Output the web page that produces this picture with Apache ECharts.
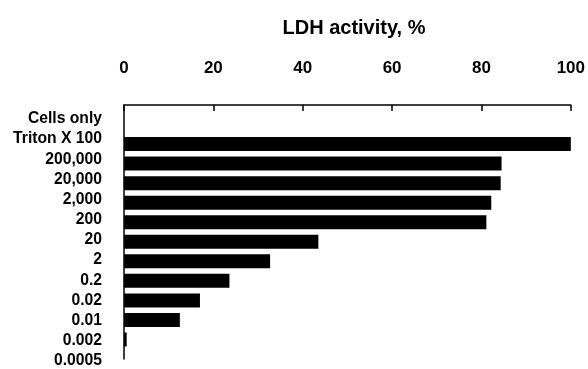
<!DOCTYPE html>
<html>
<head>
<meta charset="utf-8">
<script src="https://cdn.jsdelivr.net/npm/echarts@6/dist/echarts.min.js"></script>
<style>
html,body{margin:0;padding:0;background:#fff;}
#chart{width:588px;height:369px;}
</style>
</head>
<body>
<div id="chart"></div>
<script>
const categories = ['Cells only','Triton X 100','200,000','20,000','2,000','200','20','2','0.2','0.02','0.01','0.002','0.0005'];
const values = [0, 100, 84.5, 84.3, 82.2, 81.1, 43.5, 32.7, 23.6, 17.0, 12.5, 0.6, 0];
const xTicks = [0, 20, 40, 60, 80, 100];
const titleText = 'LDH activity, %';

const FONT = '"Liberation Sans", Arial, sans-serif';
const chart = echarts.init(document.getElementById('chart'), null, {renderer: 'canvas'});

const barCats = [''].concat(categories);
const barData = [null].concat(values);

chart.setOption({
  animation: false,
  backgroundColor: '#fff',
  title: {
    text: titleText,
    left: 349,
    top: 13,
    textAlign: 'center',
    textStyle: {fontFamily: FONT, fontWeight: 'bold', fontSize: 20, color: '#000'}
  },
  grid: [
    {left: 124, right: 17, top: 105, height: 254, containLabel: false},
    {left: 124, right: 17, top: 119, bottom: 7, containLabel: false}
  ],
  xAxis: [
    {
      gridIndex: 0, type: 'value', position: 'top',
      min: xTicks[0], max: xTicks[xTicks.length - 1], interval: 20,
      axisLine: {show: true, lineStyle: {color: '#000', width: 1.5}},
      axisTick: {show: true, inside: true, length: 6, lineStyle: {color: '#000', width: 1.5}},
      axisLabel: {show: true, margin: 28, fontFamily: FONT, fontWeight: 'bold', fontSize: 17, color: '#000'},
      splitLine: {show: false}
    },
    {
      gridIndex: 1, type: 'value', show: false, min: 0, max: 100
    }
  ],
  yAxis: [
    {
      gridIndex: 0, type: 'category', data: barCats, inverse: true, boundaryGap: false,
      axisLine: {show: true, lineStyle: {color: '#000', width: 1.5}},
      axisTick: {show: false},
      axisLabel: {show: false},
      splitLine: {show: false}
    },
    {
      gridIndex: 1, type: 'category', data: categories, inverse: true, boundaryGap: false,
      axisLine: {show: false},
      axisTick: {show: false},
      axisLabel: {show: true, interval: 0, margin: 22, fontFamily: FONT, fontWeight: 'bold', fontSize: 15.7, color: '#000'},
      splitLine: {show: false}
    }
  ],
  series: [
    {
      type: 'bar', xAxisIndex: 0, yAxisIndex: 0,
      data: barData, barWidth: 14,
      itemStyle: {color: '#000'},
      silent: true
    }
  ]
});
</script>
</body>
</html>
